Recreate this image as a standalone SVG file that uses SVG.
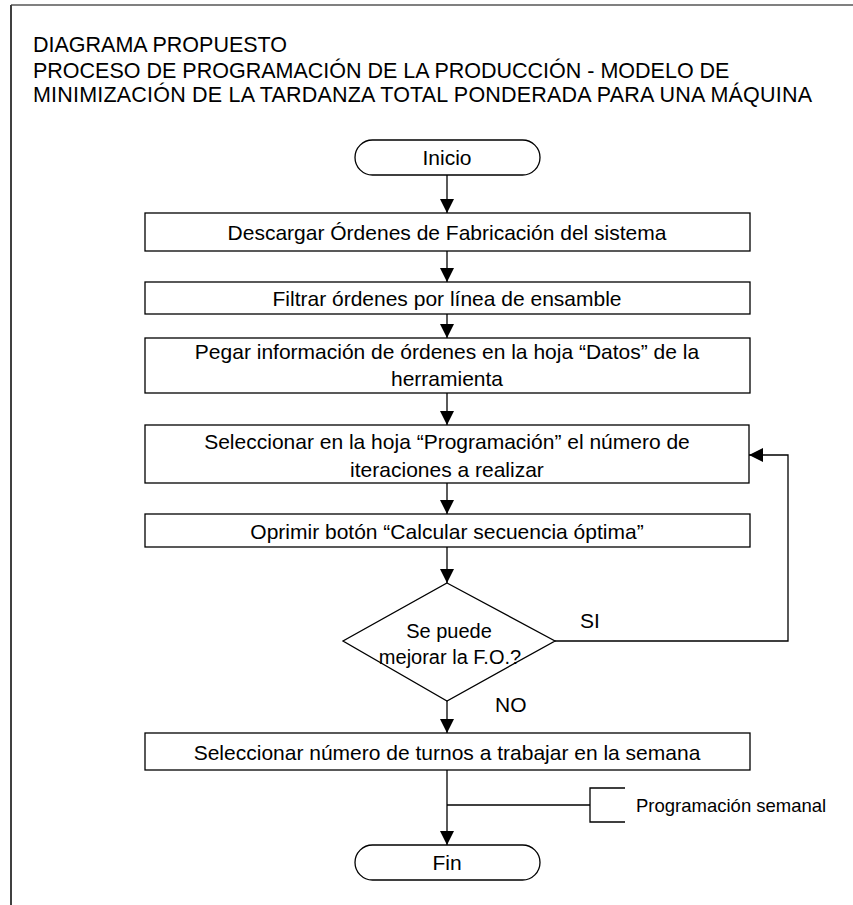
<svg xmlns="http://www.w3.org/2000/svg" width="853" height="905" viewBox="0 0 853 905">
<defs>
<marker id="ah" markerUnits="userSpaceOnUse" markerWidth="14" markerHeight="18" refX="14" refY="7" orient="auto">
<path d="M0,0 L14,7 L0,14 Z" fill="#000"/>
</marker>
</defs>
<style>
.t{font-family:"Liberation Sans",Arial,sans-serif;font-size:21px;fill:#000}
.ti{font-family:"Liberation Sans",Arial,sans-serif;font-size:21.5px;fill:#000}
.c{text-anchor:middle}
.b{fill:#fff;stroke:#000;stroke-width:1.3}
.l{fill:none;stroke:#000;stroke-width:1.3}
</style>
<rect width="853" height="905" fill="#fff"/>
<g id="frame">
<line x1="11" y1="5" x2="853" y2="5" stroke="#808080" stroke-width="2"/>
<line x1="11" y1="5" x2="11" y2="905" stroke="#404040" stroke-width="2"/>
</g>
<g id="title">
<text class="ti" x="33" y="52">DIAGRAMA PROPUESTO</text>
<text class="ti" x="33" y="78">PROCESO DE PROGRAMACIÓN DE LA PRODUCCIÓN - MODELO DE</text>
<text class="ti" x="33" y="102" textLength="779">MINIMIZACIÓN DE LA TARDANZA TOTAL PONDERADA PARA UNA MÁQUINA</text>
</g>
<g id="connectors">
<line class="l" x1="447" y1="175" x2="447" y2="213" marker-end="url(#ah)"/>
<line class="l" x1="447" y1="251" x2="447" y2="282" marker-end="url(#ah)"/>
<line class="l" x1="447" y1="314" x2="447" y2="338" marker-end="url(#ah)"/>
<line class="l" x1="447" y1="393" x2="447" y2="425" marker-end="url(#ah)"/>
<line class="l" x1="447" y1="483" x2="447" y2="514" marker-end="url(#ah)"/>
<line class="l" x1="447" y1="547" x2="447" y2="583" marker-end="url(#ah)"/>
<polyline class="l" points="555,641 788,641 788,455 749,455" marker-end="url(#ah)"/>
<line class="l" x1="447" y1="701" x2="447" y2="733" marker-end="url(#ah)"/>
<line class="l" x1="447" y1="770" x2="447" y2="845" marker-end="url(#ah)"/>
<line class="l" x1="447" y1="805" x2="590" y2="805"/>
</g>
<g id="inicio">
<rect class="b" x="355" y="140" width="185" height="35" rx="17.5"/>
<text class="t c" x="447" y="165">Inicio</text>
</g>
<g id="descargar">
<rect class="b" x="145" y="213" width="605" height="38"/>
<text class="t c" x="447" y="240">Descargar Órdenes de Fabricación del sistema</text>
</g>
<g id="filtrar">
<rect class="b" x="145" y="282" width="605" height="32"/>
<text class="t c" x="447" y="306">Filtrar órdenes por línea de ensamble</text>
</g>
<g id="pegar">
<rect class="b" x="145" y="338" width="605" height="55"/>
<text class="t c" x="447" y="359">Pegar información de órdenes en la hoja “Datos” de la</text>
<text class="t c" x="447" y="386">herramienta</text>
</g>
<g id="seleccionar-iter">
<rect class="b" x="145" y="425" width="604" height="58"/>
<text class="t c" x="447" y="449">Seleccionar en la hoja “Programación” el número de</text>
<text class="t c" x="447" y="477">iteraciones a realizar</text>
</g>
<g id="oprimir">
<rect class="b" x="145" y="514" width="605" height="33"/>
<text class="t c" x="447" y="539">Oprimir botón “Calcular secuencia óptima”</text>
</g>
<g id="decision">
<polygon class="b" points="447,583 555,641 447,701 343,641"/>
<text class="t c" x="449" y="638" style="font-size:20px">Se puede</text>
<text class="t c" x="450" y="664" style="font-size:20px">mejorar la F.O.?</text>
<text class="t" x="580" y="628">SI</text>
<text class="t" x="495" y="712">NO</text>
</g>
<g id="seleccionar-turnos">
<rect class="b" x="145" y="733" width="605" height="37"/>
<text class="t c" x="447" y="760">Seleccionar número de turnos a trabajar en la semana</text>
</g>
<g id="programacion-semanal">
<polyline class="l" points="625,788 590,788 590,822 625,822"/>
<text class="t" x="636" y="812" style="font-size:18.5px">Programación semanal</text>
</g>
<g id="fin">
<rect class="b" x="355" y="845" width="185" height="35" rx="17.5"/>
<text class="t c" x="447" y="870">Fin</text>
</g>
</svg>
